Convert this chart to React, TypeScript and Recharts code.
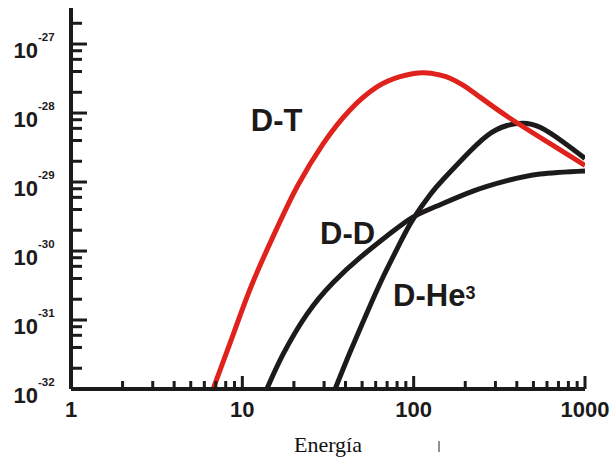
import React from 'react';
import { LineChart, Line, XAxis, YAxis, ReferenceDot } from 'recharts';

// ---- data (energy in keV, reactivity) ----
const dtEnergy = [6.75, 8.83, 11.5, 16.0, 21.1, 29.6, 42.5, 61.1, 83.3, 113.5, 142.6, 163, 194, 244, 365, 626, 1000];
const dtValue = [1e-32, 6.1e-32, 3.5e-31, 2.2e-30, 8.97e-30, 3.58e-29, 1.11e-28, 2.39e-28, 3.37e-28, 3.85e-28, 3.55e-28, 3.2e-28, 2.54e-28, 1.7e-28, 8.4e-29, 3.6e-29, 1.74e-29];

const ddEnergy = [13.9, 17.3, 23.9, 33.8, 48.6, 72.8, 99, 137, 222, 351, 547, 1000];
const ddValue = [1e-32, 3.2e-32, 1.23e-31, 3.47e-31, 8.0e-31, 1.79e-30, 3.1e-30, 4.5e-30, 7.4e-30, 1.05e-29, 1.31e-29, 1.45e-29];

const dheEnergy = [34.8, 42.5, 53.5, 66.3, 83.3, 99.2, 125, 148.5, 194, 268, 351, 435, 547, 745, 1000];
const dheValue = [1e-32, 3.4e-32, 1.29e-31, 4.2e-31, 1.31e-30, 2.9e-30, 6.6e-30, 1.09e-29, 2.2e-29, 4.7e-29, 6.6e-29, 7.1e-29, 6.2e-29, 3.8e-29, 2.2e-29];

const xMajorTicks = [1, 10, 100, 1000];
const xTickLabels = ['1', '10', '100', '1000'];
const xMinorMultipliers = [2, 3, 4, 5, 6, 7, 8, 9];
const yMajorTicks = [1e-32, 1e-31, 1e-30, 1e-29, 1e-28, 1e-27];
const yTickExponents = ['-32', '-31', '-30', '-29', '-28', '-27'];
const yMinorMultipliers = [2, 4, 6, 8];

const seriesLabels = ['D-T', 'D-D', 'D-He'];
const labelAnchorsE = [11.2, 28.4, 75.8];
const labelAnchorsV = [5.4e-29, 1.28e-30, 1.61e-31];

const xDomain: [number, number] = [1, 1000];
const yDomain: [number, number] = [1e-32, 3.33e-27];

const toRows = (es: number[], vs: number[]) => es.map((e, i) => ({ e, v: vs[i] }));
const dtData = toRows(dtEnergy, dtValue);
const ddData = toRows(ddEnergy, ddValue);
const dheData = toRows(dheEnergy, dheValue);

const xTicks: number[] = [];
xMajorTicks.forEach((t, i) => {
  xTicks.push(t);
  if (i < xMajorTicks.length - 1) xMinorMultipliers.forEach((m) => xTicks.push(m * t));
});
const yTicks: number[] = [];
yMajorTicks.forEach((t) => {
  yTicks.push(t);
  yMinorMultipliers.forEach((m) => {
    const v = m * t;
    if (v <= yDomain[1]) yTicks.push(v);
  });
});

const isMajor = (v: number) => {
  const l = Math.log10(v);
  return Math.abs(l - Math.round(l)) < 1e-6;
};

const INK = '#1d1a1a';
const RED = '#e0221c';
const FONT = '"Liberation Sans", Arial, Helvetica, sans-serif';

const XTick = (props: any) => {
  const { x, y, payload } = props;
  const v = payload.value;
  const major = isMajor(v);
  const idx = xMajorTicks.findIndex((t) => Math.abs(t - v) < 1e-9);
  return (
    <g>
      <path d={`M${x},${y}L${x},${y - (major ? 13 : 8)}`} stroke={INK} strokeWidth={3} fill="none" />
      {major && idx >= 0 && (
        <text x={x} y={y + 28} textAnchor="middle" fontFamily={FONT} fontWeight="bold" fontSize={22} fill={INK}>
          {xTickLabels[idx]}
        </text>
      )}
    </g>
  );
};

const YTick = (props: any) => {
  const { x, y, payload } = props;
  const v = payload.value;
  const major = isMajor(v);
  const idx = yMajorTicks.findIndex((t) => Math.abs(Math.log10(t) - Math.log10(v)) < 1e-6);
  return (
    <g>
      <path d={`M${x},${y}L${x + (major ? 16 : 11)},${y}`} stroke={INK} strokeWidth={3} fill="none" />
      {major && idx >= 0 && (
        <g fontFamily={FONT} fontWeight="bold" fill={INK}>
          <text x={x - 33} y={y + 13.5} textAnchor="end" fontSize={22}>10</text>
          <text x={x - 33} y={y - 3} textAnchor="start" fontSize={11.5}>{yTickExponents[idx]}</text>
        </g>
      )}
    </g>
  );
};

const EnergyLabel = (props: any) => {
  const vb = props.viewBox || {};
  const cx = vb.x + vb.width / 2;
  const by = vb.y + 63;
  return (
    <g>
      <text x={cx} y={by} textAnchor="middle" fontFamily='"Liberation Serif", "Times New Roman", serif' fontSize={22} fill="#111">
        Energía
      </text>
      <line x1={cx + 111} y1={by - 11} x2={cx + 111} y2={by} stroke="#222" strokeWidth={1} />
    </g>
  );
};

const SeriesLabel = (idx: number) => (props: any) => {
  const { cx, cy } = props;
  return (
    <text x={cx} y={cy} fontFamily={FONT} fontWeight="bold" fontSize={31} fill={INK}>
      {seriesLabels[idx]}
      {idx === 2 && (
        <tspan dy={-7} fontSize={18}>3</tspan>
      )}
    </text>
  );
};

export default function App() {
  return (
    <div style={{ position: 'absolute', left: 0, top: 0, width: 610, height: 459, background: '#fff' }}>
      <LineChart width={610} height={459} margin={{ top: 8, right: 25, bottom: 0, left: 0 }}>
        <XAxis
          xAxisId="b"
          dataKey="e"
          type="number"
          scale="log"
          domain={xDomain}
          allowDataOverflow
          ticks={xTicks}
          interval={0}
          tickSize={0}
          tickMargin={0}
          tickLine={false}
          tick={<XTick />}
          axisLine={{ stroke: INK, strokeWidth: 4 }}
          height={70}
          label={{ content: <EnergyLabel /> } as any}
        />
        <XAxis
          xAxisId="t"
          orientation="top"
          type="number"
          scale="log"
          domain={xDomain}
          allowDataOverflow
          tick={false}
          tickLine={false}
          axisLine={{ stroke: INK, strokeWidth: 3 }}
          height={0}
        />
        <YAxis
          yAxisId="l"
          dataKey="v"
          type="number"
          scale="log"
          domain={yDomain}
          allowDataOverflow
          ticks={yTicks}
          interval={0}
          tickSize={0}
          tickMargin={0}
          tickLine={false}
          tick={<YTick />}
          axisLine={{ stroke: INK, strokeWidth: 4 }}
          width={71}
        />
        <YAxis
          yAxisId="r"
          orientation="right"
          type="number"
          scale="log"
          domain={yDomain}
          allowDataOverflow
          tick={false}
          tickLine={false}
          axisLine={{ stroke: INK, strokeWidth: 3 }}
          width={0}
        />
        <Line xAxisId="b" yAxisId="l" data={ddData} dataKey="v" type="natural" stroke={INK} strokeWidth={5} dot={false} isAnimationActive={false} />
        <Line xAxisId="b" yAxisId="l" data={dheData} dataKey="v" type="natural" stroke={INK} strokeWidth={5} dot={false} isAnimationActive={false} />
        <Line xAxisId="b" yAxisId="l" data={dtData} dataKey="v" type="natural" stroke={RED} strokeWidth={5} dot={false} isAnimationActive={false} />
        {seriesLabels.map((s, i) => (
          <ReferenceDot key={s} xAxisId="b" yAxisId="l" x={labelAnchorsE[i]} y={labelAnchorsV[i]} r={0} ifOverflow="visible" shape={SeriesLabel(i)} />
        ))}
      </LineChart>
    </div>
  );
}
